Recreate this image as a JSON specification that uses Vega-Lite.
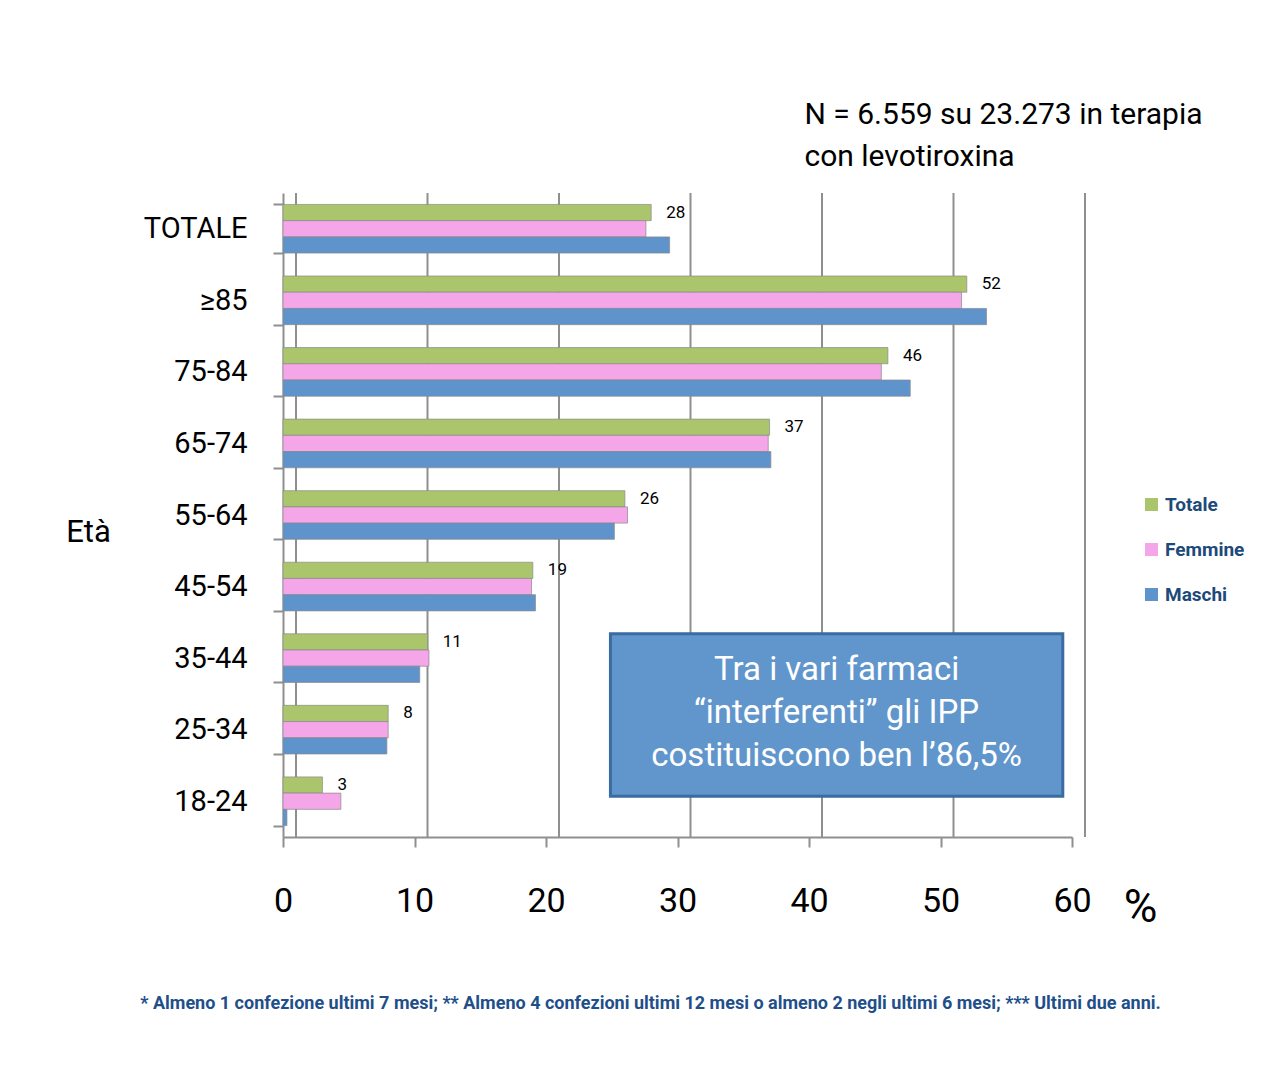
{
  "$schema": "https://vega.github.io/schema/vega-lite/v6.json",
  "width": 789,
  "height": 644,
  "autosize": {"type": "none"},
  "padding": {"left": 283, "top": 193, "right": 212, "bottom": 235},
  "background": "white",
  "config": {
    "view": {"stroke": null},
    "font": "Roboto, sans-serif"
  },
  "title": {
    "text": "* Almeno 1 confezione ultimi 7 mesi; ** Almeno 4 confezioni ultimi 12 mesi o almeno 2 negli ultimi 6 mesi; *** Ultimi due anni.",
    "orient": "bottom",
    "anchor": "middle",
    "fontSize": 18,
    "fontWeight": "bold",
    "color": "#1f4f8a",
    "font": "Roboto, sans-serif",
    "offset": 65,
    "dx": -27
  },
  "datasets": {
    "bars": [
      {"cat": "TOTALE", "series": "Totale", "value": 28},
      {"cat": "TOTALE", "series": "Femmine", "value": 27.6},
      {"cat": "TOTALE", "series": "Maschi", "value": 29.4},
      {"cat": "≥85", "series": "Totale", "value": 52},
      {"cat": "≥85", "series": "Femmine", "value": 51.6},
      {"cat": "≥85", "series": "Maschi", "value": 53.5},
      {"cat": "75-84", "series": "Totale", "value": 46},
      {"cat": "75-84", "series": "Femmine", "value": 45.5},
      {"cat": "75-84", "series": "Maschi", "value": 47.7},
      {"cat": "65-74", "series": "Totale", "value": 37},
      {"cat": "65-74", "series": "Femmine", "value": 36.9},
      {"cat": "65-74", "series": "Maschi", "value": 37.1},
      {"cat": "55-64", "series": "Totale", "value": 26},
      {"cat": "55-64", "series": "Femmine", "value": 26.2},
      {"cat": "55-64", "series": "Maschi", "value": 25.2},
      {"cat": "45-54", "series": "Totale", "value": 19},
      {"cat": "45-54", "series": "Femmine", "value": 18.9},
      {"cat": "45-54", "series": "Maschi", "value": 19.2},
      {"cat": "35-44", "series": "Totale", "value": 11},
      {"cat": "35-44", "series": "Femmine", "value": 11.1},
      {"cat": "35-44", "series": "Maschi", "value": 10.4},
      {"cat": "25-34", "series": "Totale", "value": 8},
      {"cat": "25-34", "series": "Femmine", "value": 8},
      {"cat": "25-34", "series": "Maschi", "value": 7.9},
      {"cat": "18-24", "series": "Totale", "value": 3},
      {"cat": "18-24", "series": "Femmine", "value": 4.4},
      {"cat": "18-24", "series": "Maschi", "value": 0.3}
    ],
    "grid": [{"g": 0}, {"g": 10}, {"g": 20}, {"g": 30}, {"g": 40}, {"g": 50}, {"g": 60}],
    "note": [{"x1": 24.9, "x2": 59.3, "xc": 42.1, "top": "35-44", "bottom": "18-24", "text": ["Tra i vari farmaci", "“interferenti” gli IPP", "costituiscono ben l’86,5%"]}]
  },
  "layer": [
    {
      "data": {"name": "grid"},
      "mark": {"type": "rule", "color": "#8f8f8f", "strokeWidth": 2, "xOffset": 13},
      "encoding": {
        "x": {
          "field": "g",
          "type": "quantitative",
          "scale": {"domain": [0, 60], "nice": false, "zero": true},
          "axis": {
            "orient": "top",
            "labels": false,
            "ticks": false,
            "domain": false,
            "grid": false,
            "title": ["N = 6.559 su 23.273 in terapia", "con levotiroxina"],
            "titleAnchor": "start",
            "titleAlign": "left",
            "titleX": 521,
            "titleY": -70,
            "titleBaseline": "alphabetic",
            "titleFontSize": 30,
            "titleFontWeight": "normal",
            "titleColor": "black",
            "titleLineHeight": 42
          }
        }
      }
    },
    {
      "data": {"name": "bars"},
      "mark": {"type": "bar", "stroke": "#8a8a8a", "strokeWidth": 0.7},
      "encoding": {
        "y": {
          "field": "cat",
          "type": "nominal",
          "title": "Età",
          "scale": {
            "domain": ["TOTALE", "≥85", "75-84", "65-74", "55-64", "45-54", "35-44", "25-34", "18-24"],
            "paddingInner": 0.32,
            "paddingOuter": 0.16
          },
          "axis": {
            "tickBand": "extent",
            "domainColor": "#8f8f8f",
            "domainWidth": 2,
            "tickColor": "#8f8f8f",
            "tickWidth": 2,
            "tickSize": 10,
            "labelFontSize": 29,
            "labelColor": "black",
            "labelPadding": 26,
            "titleAngle": 0,
            "titleFontSize": 31,
            "titleFontWeight": "normal",
            "titleColor": "black",
            "titleX": -195,
            "titleY": 339,
            "titleAlign": "center",
            "titleBaseline": "middle"
          }
        },
        "yOffset": {
          "field": "series",
          "type": "nominal",
          "scale": {"domain": ["Totale", "Femmine", "Maschi"]}
        },
        "x": {
          "field": "value",
          "type": "quantitative",
          "scale": {"domain": [0, 60], "nice": false, "zero": true},
          "axis": {
            "orient": "bottom",
            "values": [0, 10, 20, 30, 40, 50, 60],
            "grid": false,
            "domainColor": "#8f8f8f",
            "domainWidth": 2,
            "tickColor": "#8f8f8f",
            "tickWidth": 2,
            "tickSize": 10,
            "labelFontSize": 34,
            "labelColor": "black",
            "labelPadding": 37,
            "labelFlush": false,
            "title": "%",
            "titleFontSize": 46,
            "titleFontWeight": "normal",
            "titleColor": "black",
            "titleX": 857,
            "titleY": 70,
            "titleAlign": "center",
            "titleBaseline": "middle"
          }
        },
        "color": {
          "field": "series",
          "type": "nominal",
          "scale": {
            "domain": ["Totale", "Femmine", "Maschi"],
            "range": ["#abc56c", "#f4a6e8", "#5f93cb"]
          },
          "legend": {
            "orient": "none",
            "legendX": 859,
            "legendY": 302,
            "title": null,
            "padding": 0,
            "symbolType": "square",
            "symbolSize": 169,
            "symbolStrokeWidth": 0,
            "symbolOpacity": 1,
            "labelFontSize": 19,
            "labelFontWeight": "bold",
            "labelColor": "#1d4a7a",
            "labelOffset": 4,
            "rowPadding": 25
          }
        }
      }
    },
    {
      "data": {"name": "bars"},
      "transform": [{"filter": "datum.series === 'Totale'"}],
      "mark": {"type": "text", "align": "left", "baseline": "middle", "dx": 15, "fontSize": 17, "color": "black"},
      "encoding": {
        "y": {"field": "cat", "type": "nominal", "title": "Età"},
        "yOffset": {"field": "series", "type": "nominal"},
        "x": {"field": "value", "type": "quantitative", "axis": null},
        "text": {"field": "value", "type": "quantitative", "format": ".0f"}
      }
    },
    {
      "data": {"name": "note"},
      "mark": {"type": "rect", "fill": "#6196cc", "stroke": "#3b6ba3", "strokeWidth": 3},
      "encoding": {
        "x": {"field": "x1", "type": "quantitative", "axis": null},
        "x2": {"field": "x2"},
        "y": {"field": "top", "type": "nominal", "bandPosition": 0, "title": "Età"},
        "y2": {"field": "bottom", "bandPosition": 0.4}
      }
    },
    {
      "data": {"name": "note"},
      "mark": {"type": "text", "align": "center", "baseline": "middle", "fontSize": 33, "color": "white", "lineHeight": 43},
      "encoding": {
        "x": {"field": "xc", "type": "quantitative", "axis": null},
        "y": {"field": "top", "type": "nominal", "bandPosition": 0.74, "title": "Età"},
        "text": {"field": "text"}
      }
    }
  ],
  "resolve": {"axis": {"x": "independent"}}
}
